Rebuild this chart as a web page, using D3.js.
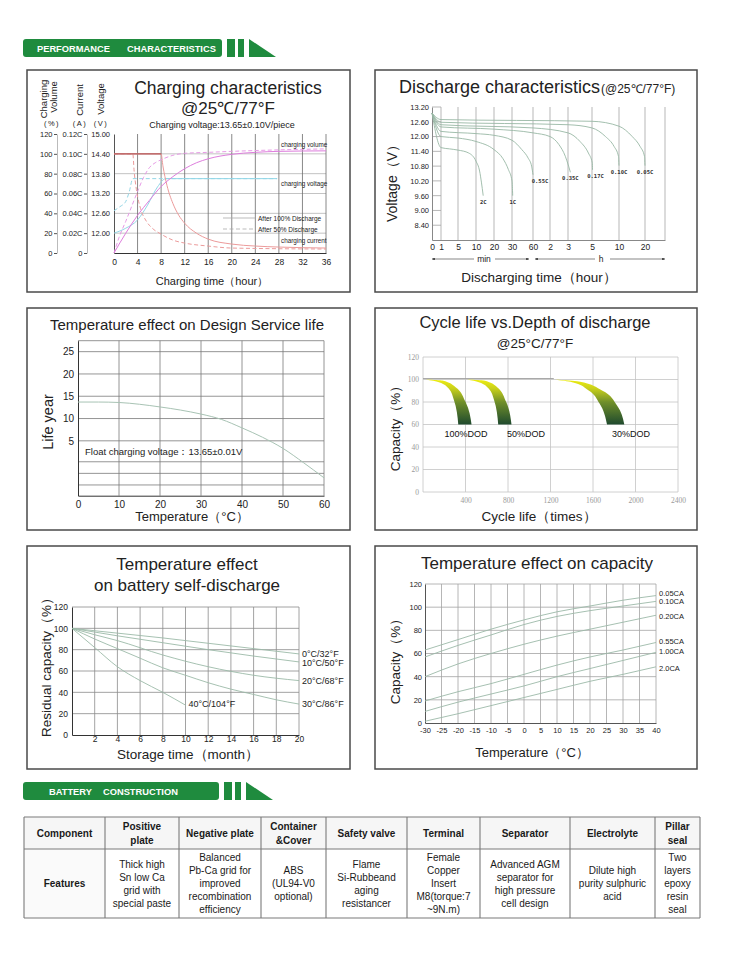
<!DOCTYPE html>
<html><head><meta charset="utf-8">
<script src="https://cdn.jsdelivr.net/npm/d3@7/dist/d3.min.js"></script>
<style>html,body{margin:0;padding:0;background:#fff;}svg{display:block;}</style>
</head><body>
<svg id="chart" width="750" height="954"></svg>
<script>
// ================= DATA =================
// Charging characteristics
const chargeHours = [0,4,8,12,16,20,24,28,32,36];
const chargeVolumeTicks = [0,20,40,60,80,100,120];
const chargeCurrentTicks = [0,0.02,0.04,0.06,0.08,0.10,0.12];
const chargeVoltageTicks = [12.00,12.60,13.20,13.80,14.40,15.00];
const chargeVolume100 = [[0,0],[2,20],[4,38],[6,53],[8,67],[10,77],[12,85],[14,91],[16,95],[20,99.5],[24,101.5],[28,102.5],[36,103]];
const chargeVolume50  = [[0,0],[1,18],[2,32],[3,47],[4,62],[5,76],[6,86],[7,91],[8,94],[10,98.5],[12,100.5],[16,101.5],[20,102.5],[28,104],[36,105]];
const chargeVoltage100 = [[0,12.0],[2,12.15],[4,12.4],[5.7,12.85],[7.4,13.4],[8.8,13.65],[27.7,13.65]];
const chargeVoltage50  = [[0,12.68],[1,12.8],[2,12.96],[2.6,13.26],[3.2,13.65],[27.7,13.65]];
const chargeCurrent100 = [[0,0.1],[8,0.1],[8.3,0.088],[9,0.068],[10,0.05],[11,0.038],[12,0.03],[14,0.02],[16,0.014],[20,0.009],[24,0.007],[28,0.006],[36,0.005]];
const chargeCurrent50  = [[0,0.1],[3.2,0.1],[3.4,0.084],[3.8,0.064],[4.5,0.045],[5.5,0.032],[6.5,0.025],[8,0.019],[10,0.013],[12,0.01],[16,0.007],[20,0.005],[36,0.004]];

// Discharge characteristics (time in minutes, voltage V)
const dischargeTickMinutes = [0,1,5,10,20,30,60,120,180,300,600,1200];
const dischargeTickLabels = ["0","1","5","10","20","30","60","2","3","5","10","20"];
const dischargeVoltTicks = [8.40,9.00,9.60,10.20,10.80,11.40,12.00,12.60,13.20];
const discharge2C   = [[0,12.95],[1,11.55],[3,11.5],[5,11.45],[8,11.33],[10,11.0],[12,10.6],[13,10.15],[14,9.6]];
const discharge1C   = [[0,12.95],[1,12.0],[5,11.94],[10,11.8],[20,11.47],[25,11.1],[28,10.66],[30,10.2],[31,9.6]];
const discharge055C = [[0,12.95],[1,12.21],[10,12.12],[20,12.05],[30,11.85],[44,11.47],[53,11.13],[58,10.8],[60,10.45]];
const discharge035C = [[0,12.95],[1,12.39],[20,12.3],[60,12.15],[120,12.0],[150,11.67],[171,11.2],[183,10.8],[192,10.55]];
const discharge017C = [[0,12.95],[1,12.48],[60,12.35],[180,12.15],[240,11.8],[282,11.33],[303,10.93],[306,10.65]];
const discharge010C = [[0,12.95],[1,12.58],[180,12.48],[300,12.35],[450,12.0],[545,11.6],[594,11.2],[600,10.82]];
const discharge005C = [[0,12.95],[1,12.69],[300,12.62],[600,12.42],[900,12.01],[1086,11.6],[1188,11.2],[1200,10.82]];
const dischargeLabels = ["2C","1C","0.55C","0.35C","0.17C","0.10C","0.05C"];

// Temperature effect on design service life
const lifeTemps = [0,10,20,30,40,50,60];
const lifeYearTicks = [5,10,15,20,25];
const lifeGridYears = [25,20,15,10,5,0.3,-2.3,-4.9];
const lifeCurve = [[0,13.7],[5,13.7],[10,13.6],[15,13.2],[20,12.6],[25,11.9],[30,11.0],[35,9.8],[40,7.9],[45,5.8],[50,3.3],[55,0.1],[60,-3.3]];

// Cycle life vs depth of discharge
const cycleTicks = [400,800,1200,1600,2000,2400];
const cycleCapTicks = [0,20,40,60,80,100,120];
const dodLabels = ["100%DOD","50%DOD","30%DOD"];
const dod100Inner = [[25,100],[150,97.6],[244,91.7],[290,82],[332,60]];
const dod100Outer = [[25,100],[182,99.1],[307,93.2],[401,80],[457,60]];
const dod50Inner  = [[416,100],[526,97.6],[620,91.7],[668,82],[708,60]];
const dod50Outer  = [[416,100],[573,99.1],[698,93.2],[783,80],[833,60]];
const dod30Inner  = [[1231,100],[1403,97.6],[1560,90.3],[1660,79],[1732,60]];
const dod30Outer  = [[1231,100],[1466,98.2],[1685,90.3],[1826,77],[1895,60]];
const cycleFullLine = [[0,100.8],[1231,100.8]];

// Self-discharge
const storageMonths = [2,4,6,8,10,12,14,16,18,20];
const residualTicks = [0,20,40,60,80,100,120];
const self0C  = [[0,100],[4,95.5],[8,91],[12,86],[16,81],[20,76]];
const self10C = [[0,100],[4,93],[8,86.5],[12,80],[16,74],[20,68.5]];
const self20C = [[0,100],[2,94],[4,88.5],[8,75],[12,64],[16,56],[20,51]];
const self30C = [[0,100],[2,90],[4,81],[6,72],[8,63],[10,56],[12,49],[14,43],[16,38],[18,33],[20,29]];
const self40C = [[0,100],[2,82],[4,64],[6,51],[8,40],[10,28]];
const selfLabels = ["0°C/32°F","10°C/50°F","20°C/68°F","30°C/86°F","40°C/104°F"];

// Temperature effect on capacity
const capTemps = [-30,-25,-20,-15,-10,-5,0,5,10,15,20,25,30,35,40];
const capTicks = [0,20,40,60,80,100,120];
const cap005 = [[-30,63],[-20,72],[-10,81],[0,89],[10,96],[20,101],[30,106],[40,110]];
const cap010 = [[-30,57],[-20,67],[-10,76],[0,85],[10,92],[20,97],[30,101],[40,105]];
const cap020 = [[-30,40],[-20,51],[-10,60],[0,68],[10,75],[20,81],[30,87],[40,93]];
const cap055 = [[-30,19],[-20,27],[-10,34],[0,42],[10,50],[20,57],[30,63],[40,69.5]];
const cap100 = [[-30,10],[-20,18],[-10,25],[0,32],[10,40],[20,47],[30,54],[40,61]];
const cap200 = [[-30,1.5],[-20,8],[-10,15],[0,22],[10,29],[20,36],[30,42],[40,48.5]];
const capLabels = ["0.05CA","0.10CA","0.20CA","0.55CA","1.00CA","2.0CA"];

// Battery construction table
const tableHeaders = [["Component"],["Positive","plate"],["Negative plate"],["Container","&Cover"],["Safety valve"],["Terminal"],["Separator"],["Electrolyte"],["Pillar","seal"]];
const tableFeatures = [["Features"],["Thick high","Sn low Ca","grid with","special paste"],["Balanced","Pb-Ca grid for","improved","recombination","efficiency"],["ABS","(UL94-V0","optional)"],["Flame","Si-Rubbeand","aging","resistancer"],["Female","Copper","Insert","M8(torque:7","~9N.m)"],["Advanced AGM","separator for","high pressure","cell design"],["Dilute high","purity sulphuric","acid"],["Two","layers","epoxy","resin","seal"]];

// ================= DRAWING =================
const FONT = '"Liberation Sans", Arial, Helvetica, sans-serif';
const GREEN = "#1f8b3e";
const svg = d3.select("#chart").attr("font-family", FONT);
const defs = svg.append("defs");
const plain = d => String(d);

function addText(g, x, y, s, o = {}) {
  const t = g.append("text").attr("x", x).attr("y", y).text(s)
    .attr("font-size", o.size || 10).attr("fill", o.fill || "#222")
    .attr("text-anchor", o.anchor || "start");
  if (o.weight) t.attr("font-weight", o.weight);
  if (o.family) t.attr("font-family", o.family);
  if (o.rotate) t.attr("transform", `rotate(-90,${x},${y})`);
  if (o.ls != null) t.attr("letter-spacing", o.ls);
  return t;
}
function styleAxis(a, o = {}) {
  a.attr("font-family", FONT).attr("font-size", o.size || 9);
  if (o.noDomain) a.select(".domain").remove();
  else a.select(".domain").attr("stroke", o.domainColor || "#333").attr("stroke-width", o.domainWidth || 1);
  a.selectAll(".tick line").attr("stroke", o.tickColor || "#333");
  a.selectAll(".tick text").attr("fill", o.fill || "#222");
  if (o.family) a.selectAll(".tick text").attr("font-family", o.family);
  return a;
}
function vGrid(g, xs, ys, vals, color, w) {
  g.append("g").selectAll("line").data(vals).join("line")
    .attr("x1", d => xs(d)).attr("x2", d => xs(d))
    .attr("y1", ys.range()[0]).attr("y2", ys.range()[1])
    .attr("stroke", color).attr("stroke-width", w || 0.8);
}
function hGrid(g, xs, ys, vals, color, w) {
  g.append("g").selectAll("line").data(vals).join("line")
    .attr("y1", d => ys(d)).attr("y2", d => ys(d))
    .attr("x1", xs.range()[0]).attr("x2", xs.range()[1])
    .attr("stroke", color).attr("stroke-width", w || 0.8);
}
function drawLine(g, data, xs, ys, color, o = {}) {
  const gen = d3.line().x(d => xs(d[0])).y(d => ys(d[1])).curve(o.curve || d3.curveMonotoneX);
  const p = g.append("path").attr("d", gen(data)).attr("fill", "none")
    .attr("stroke", color).attr("stroke-width", o.width || 1);
  if (o.dash) p.attr("stroke-dasharray", o.dash);
  return p;
}
function panel(x, y, w, h) {
  svg.append("rect").attr("x", x).attr("y", y).attr("width", w).attr("height", h)
    .attr("fill", "none").attr("stroke", "#4a4a4a").attr("stroke-width", 1.5);
}
function sectionBar(y, barRight, words, wordXs) {
  const g = svg.append("g");
  g.append("rect").attr("x", 23).attr("y", y).attr("width", barRight - 23).attr("height", 18).attr("rx", 3).attr("fill", GREEN);
  words.forEach((w, i) => addText(g, wordXs[i], y + 12.5, w, { size: 9.3, weight: "bold", fill: "#fff" }));
  g.append("rect").attr("x", barRight + 5).attr("y", y).attr("width", 8).attr("height", 18).attr("fill", GREEN);
  g.append("rect").attr("x", barRight + 16).attr("y", y).attr("width", 6).attr("height", 18).attr("fill", GREEN);
  g.append("path").attr("d", `M${barRight + 27},${y}L${barRight + 27},${y + 18}L${barRight + 54},${y + 18}Z`).attr("fill", GREEN);
}

// ---------- Section header ----------
sectionBar(39, 222, ["PERFORMANCE", "CHARACTERISTICS"], [37, 127]);

// ---------- Panels ----------
panel(27, 70, 323, 222);
panel(375, 70, 322, 222);
panel(27, 308, 323, 222);
panel(375, 308, 322, 222);
panel(27, 546, 323, 223);
panel(375, 546, 322, 223);

// ================= 1. Charging characteristics =================
{
  const g = svg.append("g");
  const cx = d3.scaleLinear().domain([0, 36]).range([114, 326]);
  const cyV = d3.scaleLinear().domain([11.4, 15]).range([253, 134]);
  const cyP = d3.scaleLinear().domain([0, 120]).range([253, 134]);
  const cyA = d3.scaleLinear().domain([0, 0.12]).range([253, 134]);

  addText(g, 228, 94, "Charging characteristics", { size: 17.5, anchor: "middle" });
  addText(g, 228, 114, "@25℃/77°F", { size: 17, anchor: "middle" });
  addText(g, 222, 128, "Charging voltage:13.65±0.10V/piece", { size: 9, anchor: "middle" });

  hGrid(g, cx, cyV, chargeVoltageTicks.filter(d => d < 15), "#a9a9a9", 0.7);
  vGrid(g, cx, cyV, chargeHours.filter(d => d > 0), "#6a6a6a", 0.8);

  const ax = g.append("g").attr("transform", "translate(0,253)")
    .call(d3.axisBottom(cx).tickValues(chargeHours).tickSize(0).tickPadding(6).tickSizeOuter(0));
  styleAxis(ax, { size: 8.5, domainColor: "#333" });
  const ayV = g.append("g").attr("transform", "translate(114,0)")
    .call(d3.axisLeft(cyV).tickValues(chargeVoltageTicks).tickSize(0).tickPadding(4).tickSizeOuter(0).tickFormat(d3.format(".2f")));
  styleAxis(ayV, { size: 7.5, domainColor: "#555" });
  const ayP = g.append("g").attr("transform", "translate(57,0)")
    .call(d3.axisLeft(cyP).tickValues(chargeVolumeTicks).tickSize(3).tickPadding(1.5).tickSizeOuter(0));
  styleAxis(ayP, { size: 7.5, domainColor: "#bbb", tickColor: "#555" });
  const ayA = g.append("g").attr("transform", "translate(87,0)")
    .call(d3.axisLeft(cyA).tickValues(chargeCurrentTicks).tickSize(3).tickPadding(1.5).tickSizeOuter(0)
      .tickFormat(d => d === 0 ? "0" : d.toFixed(2) + "C"));
  styleAxis(ayA, { size: 7.5, domainColor: "#bbb", tickColor: "#555" });

  // rotated headers
  addText(g, 47, 99, "Charging", { size: 9.5, anchor: "middle", rotate: true });
  addText(g, 57, 97, "Volume", { size: 9.5, anchor: "middle", rotate: true });
  addText(g, 83, 100, "Current", { size: 9.5, anchor: "middle", rotate: true });
  addText(g, 104, 99, "Voltage", { size: 9.5, anchor: "middle", rotate: true });
  addText(g, 52, 126, "(%)", { size: 7.5, anchor: "middle", ls: 1.5 });
  addText(g, 80, 126, "(A)", { size: 7.5, anchor: "middle", ls: 1.5 });
  addText(g, 101, 126, "(V)", { size: 7.5, anchor: "middle", ls: 1.5 });

  // curves
  drawLine(g, chargeVoltage50, cx, cyV, "#93d6e6", { dash: "4,2.5" });
  drawLine(g, chargeVoltage100, cx, cyV, "#93d6e6");
  drawLine(g, chargeCurrent50, cx, cyA, "#ec9b9b", { dash: "4,2.5" });
  drawLine(g, chargeCurrent100, cx, cyA, "#ec9b9b");
  drawLine(g, chargeCurrent100.slice(0, 2), cx, cyA, "#b55a5a", { width: 1.1, curve: d3.curveLinear });
  drawLine(g, chargeVolume50, cx, cyP, "#e79be6", { dash: "4,2.5" });
  drawLine(g, chargeVolume100, cx, cyP, "#de7ddd");

  // legend
  g.append("line").attr("x1", 223).attr("x2", 255).attr("y1", 218).attr("y2", 218).attr("stroke", "#aaa").attr("stroke-width", 0.8);
  g.append("line").attr("x1", 223).attr("x2", 255).attr("y1", 229).attr("y2", 229).attr("stroke", "#aaa").attr("stroke-width", 0.8).attr("stroke-dasharray", "4,2.5");
  addText(g, 258, 220.5, "After 100% Discharge", { size: 6.5 });
  addText(g, 258, 231.5, "After  50%  Discharge", { size: 6.5 });
  addText(g, 281, 147, "charging volume", { size: 6.3 });
  addText(g, 281, 186, "charging voltage", { size: 6.3 });
  addText(g, 281, 243, "charging current", { size: 6.3 });

  addText(g, 212, 285, "Charging time（hour）", { size: 11, anchor: "middle" });
}

// ================= 2. Discharge characteristics =================
{
  const g = svg.append("g");
  const tickPx = [432, 441, 458, 476, 494, 512, 533, 550, 568, 592, 619, 645];
  const dx = d3.scaleLinear().domain([...dischargeTickMinutes, 2400]).range([...tickPx, 665]);
  const dy = d3.scaleLinear().domain([7.8, 13.2]).range([240, 107]);

  addText(g, 399, 93, "Discharge characteristics", { size: 18 });
  addText(g, 601, 93, "(@25℃/77°F)", { size: 12 });

  hGrid(g, dx, dy, [8.4, 9.0, 9.6, 10.2, 10.8, 11.4, 12.0, 12.6, 13.2], "#a5a5a5", 0.8);
  vGrid(g, dx, dy, [...dischargeTickMinutes.slice(1), 2400], "#a5a5a5", 0.8);

  const ax = g.append("g").attr("transform", "translate(0,240)")
    .call(d3.axisBottom(dx).tickValues(dischargeTickMinutes).tickSize(0).tickPadding(4).tickSizeOuter(0)
      .tickFormat((d, i) => dischargeTickLabels[i]));
  styleAxis(ax, { size: 8.5, domainColor: "#888" });
  const ay = g.append("g").attr("transform", "translate(432,0)")
    .call(d3.axisLeft(dy).tickValues(dischargeVoltTicks).tickSize(0).tickPadding(3).tickSizeOuter(0).tickFormat(d3.format(".2f")));
  styleAxis(ay, { size: 7.5, domainColor: "#888" });

  const series = [discharge2C, discharge1C, discharge055C, discharge035C, discharge017C, discharge010C, discharge005C];
  series.forEach((s, i) => {
    drawLine(g, s, dx, dy, "#98b8a5", { width: 0.9 });
    const e = s[s.length - 1];
    addText(g, dx(e[0]) + (i === 2 ? 7 : (i === 4 ? 3 : 0)), dy(e[1]) + 8, dischargeLabels[i],
      { size: 5.5, anchor: "middle", family: '"DejaVu Sans Mono", monospace', weight: "bold", fill: "#333" });
  });

  // min / h arrows
  const arrowY = 259;
  defs.append("marker").attr("id", "arr").attr("viewBox", "0 0 10 10").attr("refX", 10).attr("refY", 5)
    .attr("markerWidth", 5).attr("markerHeight", 4).attr("orient", "auto-start-reverse")
    .append("path").attr("d", "M0,0L10,5L0,10Z").attr("fill", "#333");
  const segs = [[dx(0), 474, "start"], [495, dx(60) - 4, "end"], [dx(60) + 2, 595, "start"], [610, 665, "end"]];
  segs.forEach(s => {
    const l = g.append("line").attr("x1", s[0]).attr("x2", s[1]).attr("y1", arrowY).attr("y2", arrowY)
      .attr("stroke", "#555").attr("stroke-width", 0.7);
    if (s[2] === "start") l.attr("marker-start", "url(#arr)"); else l.attr("marker-end", "url(#arr)");
  });
  addText(g, 484, 262, "min", { size: 8.5, anchor: "middle" });
  addText(g, 601, 262, "h", { size: 8.5, anchor: "middle" });

  addText(g, 397, 180, "Voltage（V）", { size: 14, anchor: "middle", rotate: true });
  addText(g, 539, 282, "Discharging time（hour）", { size: 13.5, anchor: "middle" });
}

// ================= 3. Temperature effect on design service life =================
{
  const g = svg.append("g");
  const lx = d3.scaleLinear().domain([0, 60]).range([78, 324]);
  const ly = d3.scaleLinear().domain([-7.31, 27.46]).range([495.7, 340.7]);

  addText(g, 187, 330, "Temperature effect on Design Service life", { size: 15, anchor: "middle" });
  hGrid(g, lx, ly, [27.46, ...lifeGridYears], "#7a7a7a", 0.8);
  vGrid(g, lx, ly, lifeTemps.slice(1), "#7a7a7a", 0.8);
  const ax = g.append("g").attr("transform", "translate(0,495.7)")
    .call(d3.axisBottom(lx).tickValues(lifeTemps).tickSize(0).tickPadding(5).tickSizeOuter(0));
  styleAxis(ax, { size: 10, domainColor: "#333" });
  const ay = g.append("g").attr("transform", "translate(78,0)")
    .call(d3.axisLeft(ly).tickValues(lifeYearTicks).tickSize(0).tickPadding(4).tickSizeOuter(0));
  styleAxis(ay, { size: 10, domainColor: "#333" });

  drawLine(g, lifeCurve, lx, ly, "#a8c3b4", { width: 1 });
  addText(g, 85, 455, "Float charging voltage：13.65±0.01V", { size: 9.5 });
  addText(g, 53, 422, "Life year", { size: 14.5, anchor: "middle", rotate: true });
  addText(g, 192, 521, "Temperature（°C）", { size: 13, anchor: "middle" });
}

// ================= 4. Cycle life vs depth of discharge =================
{
  const g = svg.append("g");
  const kx = d3.scaleLinear().domain([0, 2400]).range([423, 678]);
  const ky = d3.scaleLinear().domain([0, 120]).range([492, 357]);

  addText(g, 535, 328, "Cycle life vs.Depth of discharge", { size: 16.5, anchor: "middle" });
  addText(g, 535, 348, "@25°C/77°F", { size: 13.5, anchor: "middle" });

  hGrid(g, kx, ky, cycleCapTicks, "#c4c4c4", 0.8);
  vGrid(g, kx, ky, [0, ...cycleTicks], "#c4c4c4", 0.8);
  const ax = g.append("g").attr("transform", "translate(0,492)")
    .call(d3.axisBottom(kx).tickValues(cycleTicks).tickSize(0).tickPadding(6).tickFormat(plain));
  styleAxis(ax, { size: 7.5, noDomain: true, fill: "#9a9a9a", family: '"Liberation Serif", serif' });
  const ay = g.append("g").attr("transform", "translate(423,0)")
    .call(d3.axisLeft(ky).tickValues(cycleCapTicks).tickSize(0).tickPadding(4).tickFormat(plain));
  styleAxis(ay, { size: 7.5, noDomain: true, fill: "#9a9a9a", family: '"Liberation Serif", serif' });

  drawLine(g, cycleFullLine, kx, ky, "#a0a0a0", { width: 1, curve: d3.curveLinear });

  const grad = defs.append("linearGradient").attr("id", "dodGrad").attr("gradientUnits", "userSpaceOnUse")
    .attr("x1", 0).attr("x2", 0).attr("y1", ky(100)).attr("y2", ky(60));
  [[0, "#eeee10"], [0.2, "#c9d01a"], [0.5, "#708f2a"], [1, "#1f4a2e"]].forEach(s =>
    grad.append("stop").attr("offset", s[0]).attr("stop-color", s[1]));

  const bandLine = d3.line().x(d => kx(d[0])).y(d => ky(d[1])).curve(d3.curveMonotoneY);
  const bands = [[dod100Inner, dod100Outer], [dod50Inner, dod50Outer], [dod30Inner, dod30Outer]];
  bands.forEach(b => {
    const d = bandLine(b[0]) + "L" + bandLine(b[1].slice().reverse()).slice(1) + "Z";
    g.append("path").attr("d", d).attr("fill", "url(#dodGrad)").attr("stroke", "none");
  });
  const labelCycles = [405, 970, 1958];
  dodLabels.forEach((l, i) => addText(g, kx(labelCycles[i]), 437, l, { size: 9, anchor: "middle", fill: "#111" }));

  addText(g, 400, 425, "Capacity（%）", { size: 13.5, anchor: "middle", rotate: true });
  addText(g, 539, 521, "Cycle life（times）", { size: 13.5, anchor: "middle" });
}

// ================= 5. Self-discharge =================
{
  const g = svg.append("g");
  const sx = d3.scaleLinear().domain([0, 20]).range([72, 299]);
  const sy = d3.scaleLinear().domain([0, 120]).range([735, 607]);

  addText(g, 187, 570, "Temperature effect", { size: 17, anchor: "middle" });
  addText(g, 187, 591, "on battery self-discharge", { size: 17, anchor: "middle" });

  hGrid(g, sx, sy, residualTicks.slice(1), "#8a8a8a", 0.8);
  vGrid(g, sx, sy, storageMonths, "#8a8a8a", 0.8);
  const ax = g.append("g").attr("transform", "translate(0,735)")
    .call(d3.axisBottom(sx).tickValues(storageMonths).tickSize(0).tickPadding(1).tickSizeOuter(0));
  styleAxis(ax, { size: 8.5, domainColor: "#333" });
  const ay = g.append("g").attr("transform", "translate(72,0)")
    .call(d3.axisLeft(sy).tickValues(residualTicks).tickSize(0).tickPadding(4).tickSizeOuter(0));
  styleAxis(ay, { size: 8.5, domainColor: "#333" });

  const series = [self0C, self10C, self20C, self30C, self40C];
  series.forEach(s => drawLine(g, s, sx, sy, "#9cbaa8", { width: 0.9 }));
  series.slice(0, 4).forEach((s, i) => {
    const e = s[s.length - 1];
    addText(g, 302, sy(e[1]) + [3, 4, 3, 3][i], selfLabels[i], { size: 9 });
  });
  const e40 = self40C[self40C.length - 1];
  addText(g, sx(e40[0]) + 3, sy(e40[1]) + 2, selfLabels[4], { size: 9 });

  addText(g, 51, 664, "Residual capacity（%）", { size: 13.5, anchor: "middle", rotate: true });
  addText(g, 188, 759, "Storage time（month）", { size: 13.5, anchor: "middle" });
}

// ================= 6. Temperature effect on capacity =================
{
  const g = svg.append("g");
  const tx = d3.scaleLinear().domain([-30, 40]).range([425, 656]);
  const ty = d3.scaleLinear().domain([0, 120]).range([723, 584]);

  addText(g, 537, 569, "Temperature effect on capacity", { size: 17, anchor: "middle" });
  hGrid(g, tx, ty, capTicks.slice(1), "#a3a3a3", 0.8);
  vGrid(g, tx, ty, capTemps.slice(1), "#a3a3a3", 0.8);
  const ax = g.append("g").attr("transform", "translate(0,723)")
    .call(d3.axisBottom(tx).tickValues(capTemps).tickSize(0).tickPadding(5).tickSizeOuter(0).tickFormat(plain));
  styleAxis(ax, { size: 7.5, domainColor: "#555" });
  const ay = g.append("g").attr("transform", "translate(425,0)")
    .call(d3.axisLeft(ty).tickValues(capTicks).tickSize(0).tickPadding(3).tickSizeOuter(0).tickFormat(plain));
  styleAxis(ay, { size: 7.5, domainColor: "#555" });

  const series = [cap005, cap010, cap020, cap055, cap100, cap200];
  series.forEach(s => drawLine(g, s, tx, ty, "#9cb9a8", { width: 0.9 }));
  const labelOff = [-3, 0, 1, -1, -1, 1];
  series.forEach((s, i) => {
    const e = s[s.length - 1];
    addText(g, 659, ty(e[1]) + 3 + labelOff[i], capLabels[i], { size: 7.5 });
  });

  addText(g, 400, 658, "Capacity（%）", { size: 13.5, anchor: "middle", rotate: true });
  addText(g, 532, 757, "Temperature（°C）", { size: 13, anchor: "middle" });
}

// ================= Battery construction =================
sectionBar(782, 219, ["BATTERY", "CONSTRUCTION"], [49, 103]);
{
  const g = svg.append("g");
  const cols = [24, 105, 179, 261, 326, 407, 480, 570, 655, 700];
  const rows = [817, 849, 918];
  g.append("rect").attr("x", cols[0]).attr("y", rows[0]).attr("width", cols[9] - cols[0]).attr("height", rows[1] - rows[0]).attr("fill", "#f6f6f6");
  g.append("rect").attr("x", cols[0]).attr("y", rows[1]).attr("width", cols[1] - cols[0]).attr("height", rows[2] - rows[1]).attr("fill", "#fafafa");
  rows.forEach(r => g.append("line").attr("x1", cols[0]).attr("x2", cols[9]).attr("y1", r).attr("y2", r).attr("stroke", "#7a7a7a").attr("stroke-width", 1.1));
  cols.forEach(c => g.append("line").attr("x1", c).attr("x2", c).attr("y1", rows[0]).attr("y2", rows[2]).attr("stroke", "#7a7a7a").attr("stroke-width", 1.1));
  function cell(i, r0, r1, lines, lh, bold) {
    const cxm = (cols[i] + cols[i + 1]) / 2, cym = (r0 + r1) / 2, n = lines.length;
    lines.forEach((s, k) => addText(g, cxm, cym + (k - (n - 1) / 2) * lh + 3.5, s,
      { size: 10, anchor: "middle", weight: bold ? "bold" : null, fill: "#1a1a1a" }));
  }
  tableHeaders.forEach((l, i) => cell(i, rows[0], rows[1], l, 14, true));
  tableFeatures.forEach((l, i) => cell(i, rows[1], rows[2], l, 13, i === 0));
}
</script>
</body></html>
